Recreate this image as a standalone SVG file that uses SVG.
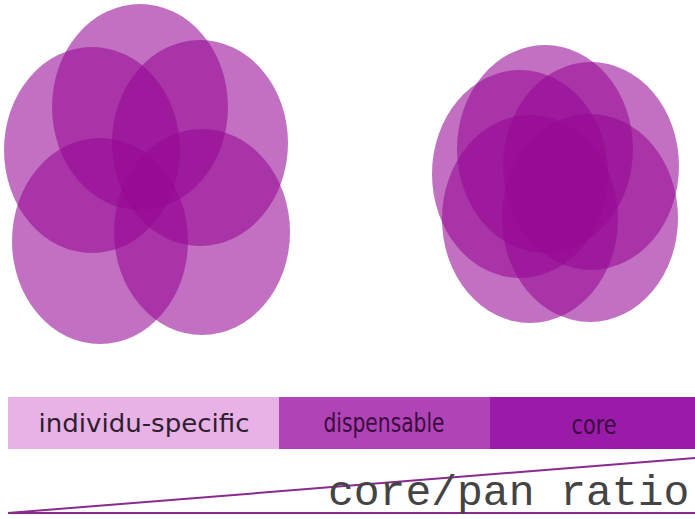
<svg xmlns="http://www.w3.org/2000/svg" width="695" height="519" viewBox="0 0 695 519">
  <style>
    .petal { fill: rgb(150,8,148); fill-opacity: 0.58; }
    .seg-text { font-family: "Liberation Sans Narrow", "DejaVu Sans Condensed", "Liberation Sans", sans-serif; font-size: 27px; fill: #3a0c3e; text-anchor: middle; }
    .wide-text { font-family: "DejaVu Sans", Verdana, sans-serif; font-size: 25px; fill: #2e1f2e; text-anchor: middle; }
    .axis { stroke: #8a2a8e; stroke-width: 2; fill: none; }
    .axis-label { font-family: "Liberation Mono", "Courier New", monospace; font-size: 43px; fill: #444444; }
  </style>
  <rect width="695" height="519" fill="#ffffff"/>

  <!-- loose five-set overlap -->
  <g id="spread-set">
    <ellipse class="petal" cx="140" cy="107" rx="88" ry="103"/>
    <ellipse class="petal" cx="92" cy="150" rx="88" ry="103"/>
    <ellipse class="petal" cx="200" cy="143" rx="88" ry="103"/>
    <ellipse class="petal" cx="100" cy="241" rx="88" ry="103"/>
    <ellipse class="petal" cx="202" cy="232" rx="88" ry="103"/>
  </g>

  <!-- tight five-set overlap -->
  <g id="tight-set">
    <ellipse class="petal" cx="545" cy="149" rx="88" ry="104"/>
    <ellipse class="petal" cx="591" cy="166" rx="88" ry="104"/>
    <ellipse class="petal" cx="520" cy="174" rx="88" ry="104"/>
    <ellipse class="petal" cx="530" cy="219" rx="88" ry="104"/>
    <ellipse class="petal" cx="590" cy="218" rx="88" ry="104"/>
  </g>

  <!-- gene category bar -->
  <g id="bar-individual">
    <rect x="8" y="397" width="271" height="52" fill="#e8b2e6"/>
    <text class="wide-text" x="144" y="432" textLength="211" lengthAdjust="spacingAndGlyphs">individu-specific</text>
  </g>
  <g id="bar-dispensable">
    <rect x="279" y="397" width="211" height="52" fill="#b044b6"/>
    <text class="seg-text" x="384" y="432" textLength="121" lengthAdjust="spacingAndGlyphs">dispensable</text>
  </g>
  <g id="bar-core">
    <rect x="490" y="397" width="205" height="52" fill="#9a1aaa"/>
    <text class="seg-text" x="594" y="434" textLength="45" lengthAdjust="spacingAndGlyphs">core</text>
  </g>

  <!-- ratio wedge -->
  <g id="connectors">
    <line class="axis" x1="8" y1="513" x2="695" y2="513"/>
    <line class="axis" x1="8" y1="513" x2="695" y2="458"/>
  </g>
  <g id="ratio-label">
    <text class="axis-label" x="328" y="505">core/pan ratio</text>
  </g>
</svg>
